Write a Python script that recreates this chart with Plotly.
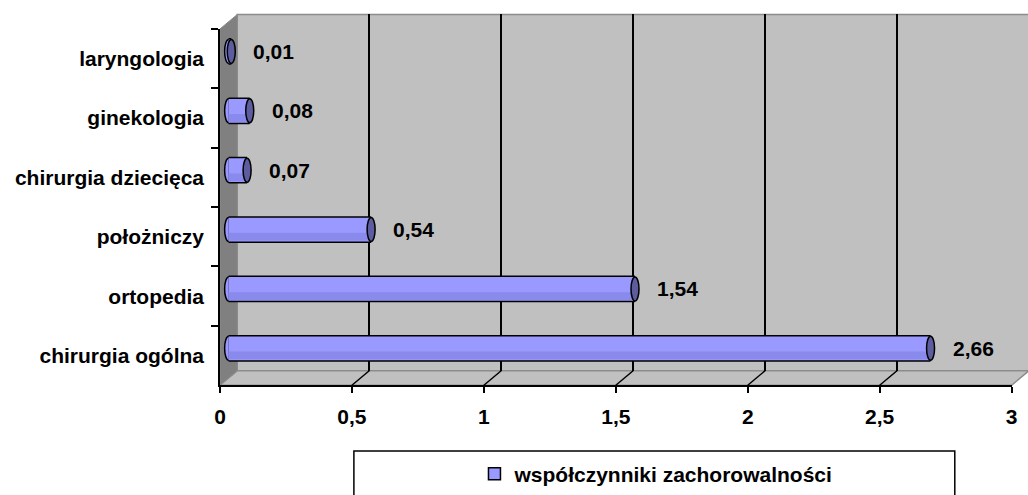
import plotly.graph_objects as go

# ---------------- data ----------------
categories = ["chirurgia ogólna", "ortopedia", "położniczy",
              "chirurgia dziecięca", "ginekologia", "laryngologia"]
values = [2.66, 1.54, 0.54, 0.07, 0.08, 0.01]
series_name = "współczynniki zachorowalności"
x_tickvals = [0, 0.5, 1, 1.5, 2, 2.5, 3]
x_ticktext = ["0", "0,5", "1", "1,5", "2", "2,5", "3"]
grid_vals = [0.5, 1, 1.5, 2, 2.5]

# ---------------- geometry (pixels) ----------------
W, H = 1028, 495
PPU = 267.0            # pixels per unit on x
FX0 = 216.5            # front x of value 0
FYT, FYB = 29.0, 386.0 # front top / bottom
DX, DY = 17.5, 14.5    # depth offset of back wall

def px(x):
    return x / W

def py(y):
    return 1 - y / H

def xdomain(x0pix, lo, hi):
    return [max(0, px(x0pix + lo * PPU)), min(1, px(x0pix + hi * PPU))]

FONT = dict(family="Arial, Liberation Sans, sans-serif", size=21, color="black", weight="bold")
BAR = "#9999ff"
BAR_DARK = "#8a8aec"
CAP = "#5c5c9e"

fig = go.Figure()

# back wall subplot (x, y): gridlines only
back_hi = (W - (FX0 + DX)) / PPU
fig.add_trace(go.Scatter(x=[None], y=[None], xaxis="x", yaxis="y",
                         showlegend=False, hoverinfo="skip"))
# middle subplot (x2, y2): the bars (black outline bar + fill bar + shade band)
idx = list(range(len(categories)))
fig.add_trace(go.Bar(x=values, y=idx, orientation="h", xaxis="x2", yaxis="y2",
                     width=0.45, offset=-0.225, showlegend=False,
                     marker=dict(color="black", line=dict(width=0)),
                     hoverinfo="skip"))
fig.add_trace(go.Bar(x=values, y=idx, orientation="h", xaxis="x2", yaxis="y2",
                     width=0.4, offset=-0.2, showlegend=False,
                     marker=dict(color=BAR, line=dict(width=0)),
                     hoverinfo="skip"))
fig.add_trace(go.Bar(x=values, y=idx, orientation="h", xaxis="x2", yaxis="y2",
                     width=0.13, offset=-0.185, showlegend=False,
                     marker=dict(color=BAR_DARK, line=dict(width=0)),
                     hoverinfo="skip"))
# legend entry for the series
fig.add_trace(go.Bar(x=[None], y=[None], orientation="h", xaxis="x2", yaxis="y2",
                     name=series_name, showlegend=True,
                     marker=dict(color=BAR, line=dict(color="black", width=1.5)),
                     hoverinfo="skip"))
# front subplot (x3, y3): axes, ticks, labels
fig.add_trace(go.Scatter(x=values, y=categories, xaxis="x3", yaxis="y3",
                         mode="markers", marker=dict(opacity=0),
                         showlegend=False, hoverinfo="skip"))

mid_lo = -0.03
fig.update_layout(
    width=W, height=H,
    margin=dict(l=0, r=0, t=0, b=0),
    paper_bgcolor="white",
    plot_bgcolor="rgba(0,0,0,0)",
    barmode="overlay",
    showlegend=True,
    xaxis=dict(domain=xdomain(FX0 + DX, 0, back_hi), range=[0, back_hi], anchor="y",
               tickvals=grid_vals, showticklabels=False, ticks="",
               showgrid=True, gridcolor="black", gridwidth=1.5,
               zeroline=False, showline=False),
    yaxis=dict(domain=[py(FYB - DY), py(FYT - DY)], range=[0, 1], anchor="x",
               showgrid=False, showticklabels=False, zeroline=False, showline=False),
    xaxis2=dict(domain=xdomain(FX0 + DX / 2, mid_lo, 3), range=[mid_lo, 3], anchor="y2",
                visible=False),
    yaxis2=dict(domain=[py(FYB - DY / 2), py(FYT - DY / 2)], range=[-0.5, 5.5],
                anchor="x2", visible=False),
    xaxis3=dict(domain=xdomain(FX0, 0, 3), range=[0, 3], anchor="y3",
                tickvals=x_tickvals, ticktext=x_ticktext, tickfont=FONT,
                ticks="outside", ticklen=6, tickwidth=1.5, tickcolor="black",
                showline=True, linecolor="black", linewidth=1.5,
                showgrid=False, zeroline=False, ticklabelstandoff=6),
    yaxis3=dict(domain=[py(FYB), py(FYT)], type="category",
                categoryorder="array", categoryarray=categories,
                range=[-0.5, len(categories) - 0.5], anchor="x3",
                tickfont=FONT, ticks="outside", ticklen=7, tickwidth=1.5,
                tickcolor="black", tickson="boundaries",
                showline=True, linecolor="black", linewidth=1.5,
                showgrid=False, zeroline=False, ticklabelstandoff=10),
    legend=dict(x=px(474), y=py(475), xanchor="left", yanchor="middle",
                orientation="h", font=FONT, bgcolor="rgba(0,0,0,0)",
                borderwidth=0),
)

# ---------------- 3-D frame (decoration) ----------------
BX0 = FX0 + DX
BYT, BYB = FYT - DY, FYB - DY
FX3 = FX0 + 3 * PPU
shapes = []
# back wall
shapes.append(dict(type="rect", xref="paper", yref="paper",
                   x0=px(BX0), x1=px(W + 10), y0=py(BYB), y1=py(BYT),
                   fillcolor="#c0c0c0", line=dict(color="#8c8c8c", width=1.5),
                   layer="below"))
# floor
floor_path = (f"M {px(FX0)} {py(FYB)} L {px(FX3)} {py(FYB)} "
              f"L {px(FX3 + DX)} {py(BYB)} L {px(BX0)} {py(BYB)} Z")
shapes.append(dict(type="path", xref="paper", yref="paper", path=floor_path,
                   fillcolor="#c0c0c0", line=dict(color="#8c8c8c", width=1.5),
                   layer="below"))
# side wall
side_path = (f"M {px(FX0)} {py(FYT)} L {px(BX0)} {py(BYT)} "
             f"L {px(BX0)} {py(BYB)} L {px(FX0)} {py(FYB)} Z")
shapes.append(dict(type="path", xref="paper", yref="paper", path=side_path,
                   fillcolor="#808080", line=dict(color="#8c8c8c", width=1),
                   layer="below"))
# floor tick connectors
for v in grid_vals:
    xf = FX0 + v * PPU
    shapes.append(dict(type="line", xref="paper", yref="paper",
                       x0=px(xf), y0=py(FYB), x1=px(xf + DX), y1=py(BYB),
                       line=dict(color="black", width=1.5), layer="below"))
# bar start caps (rounded back end of cylinders, partly hidden by the bar)
for i in idx:
    shapes.append(dict(type="circle", xref="x2", yref="y2",
                       xsizemode="pixel", ysizemode="pixel",
                       xanchor=0, yanchor=i, x0=-4, x1=4, y0=-12, y1=12,
                       fillcolor=BAR, line=dict(color="black", width=1.5),
                       layer="below"))
# bar end caps
for i, v in zip(idx, values):
    shapes.append(dict(type="circle", xref="x2", yref="y2",
                       xsizemode="pixel", ysizemode="pixel",
                       xanchor=v, yanchor=i, x0=-4, x1=4, y0=-12, y1=12,
                       fillcolor=CAP, line=dict(color="black", width=1.5),
                       layer="above"))
# legend box
shapes.append(dict(type="rect", xref="paper", yref="paper",
                   x0=px(352), x1=px(960), y0=py(H + 20), y1=py(452),
                   fillcolor="rgba(0,0,0,0)", line=dict(color="black", width=1.5),
                   layer="above"))
fig.update_layout(shapes=shapes)

# data labels
annotations = []
for i, v in zip(idx, values):
    annotations.append(dict(x=v, y=i, xref="x2", yref="y2",
                            text=f"{v:.2f}".replace(".", ","),
                            showarrow=False, xanchor="left", yanchor="middle",
                            xshift=20, font=FONT))
fig.update_layout(annotations=annotations)

fig.write_html("out.html")
